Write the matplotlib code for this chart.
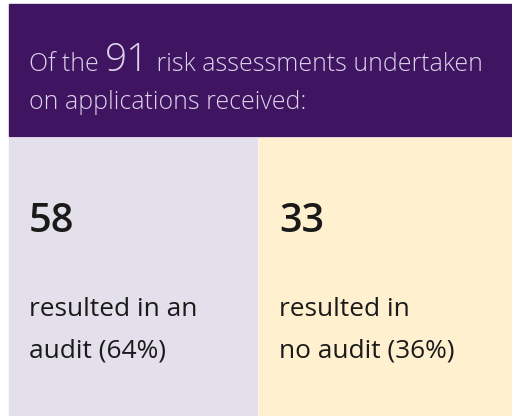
import matplotlib
matplotlib.use("Agg")
import matplotlib.pyplot as plt
from matplotlib.patches import Rectangle

# data
total = 91
counts = [58, 33]
percents = [64, 36]
line1 = ["resulted in an", "resulted in"]
line2 = ["audit", "no audit"]
panel_colors = ["#e3dfeb", "#fff1cf"]

plt.rcParams["font.family"] = ["Open Sans", "DejaVu Sans"]

fig = plt.figure(figsize=(5.12, 4.16), dpi=100)
ax = fig.add_axes([0, 0, 1, 1])
ax.set_xlim(0, 512)
ax.set_ylim(416, 0)
ax.axis("off")

# header box
ax.add_patch(Rectangle((9, 4), 503, 132, color="#3f1461"))
hdr = "#ddd3ea"
fig.canvas.draw()
r = fig.canvas.get_renderer()
t1 = ax.text(29, 71, "Of the ", fontsize=17.9, color=hdr, weight="light", va="baseline")
x = 29 + t1.get_window_extent(r).width
t2 = ax.text(x, 71, str(total), fontsize=28, color=hdr, weight="light", va="baseline")
x += t2.get_window_extent(r).width
ax.text(x, 71, " risk assessments undertaken", fontsize=17.9, color=hdr,
        weight="light", va="baseline")
ax.text(29, 109, "on applications received:", fontsize=17.9, color=hdr,
        weight="light", va="baseline")

# panels
lefts = [9, 259]
widths = [248, 253]
for i in range(2):
    ax.add_patch(Rectangle((lefts[i], 138), widths[i], 278, color=panel_colors[i]))
    tx = lefts[i] + 20
    ax.text(tx, 232, str(counts[i]), fontsize=28.5, weight="semibold", color="#1a1a1a",
            va="baseline")
    ax.text(tx, 316, line1[i], fontsize=18.9, color="#1a1a1a", va="baseline")
    ax.text(tx, 357, f"{line2[i]} ({percents[i]}%)", fontsize=18.9, color="#1a1a1a",
            va="baseline")

fig.savefig("out.png", dpi=100)
